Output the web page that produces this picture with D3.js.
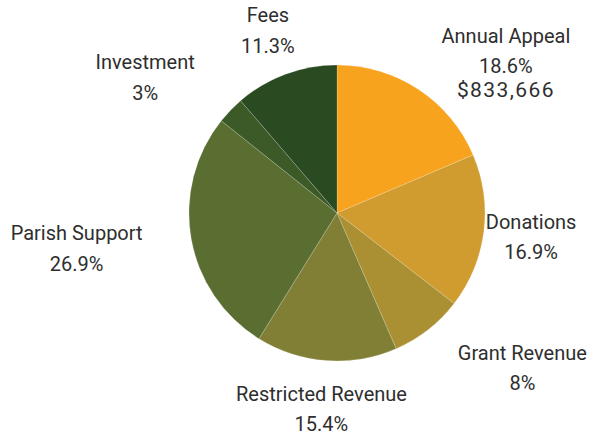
<!DOCTYPE html>
<html>
<head>
<meta charset="utf-8">
<script src="https://cdn.jsdelivr.net/npm/d3@7"></script>
<style>
  html, body { margin: 0; padding: 0; background: #fff; }
  svg { display: block; }
  text { font-family: Roboto, "DejaVu Sans", sans-serif; fill: #2e2e2e; }
</style>
</head>
<body>
<svg id="chart" width="602" height="436"></svg>
<script>
// ---- data ----
const categories = ["Annual Appeal", "Donations", "Grant Revenue", "Restricted Revenue", "Parish Support", "Investment", "Fees"];
const percents   = [18.6, 16.9, 8, 15.4, 26.9, 3, 11.3];
const pctLabels  = ["18.6%", "16.9%", "8%", "15.4%", "26.9%", "3%", "11.3%"];
const extraLabels = ["$833,666", "", "", "", "", "", ""];
const colors     = ["#F8A31E", "#D09B2F", "#AA9033", "#817F35", "#5B6E32", "#3B5A27", "#2A4A22"];

// ---- label layout (angle offset from slice middle in degrees, distance as multiple of radius) ----
const labelAngleOffset = [11.3, -2.6, -13.7, 0.6, 3.8, -7.1, 0.4];
const labelDistance    = [1.621, 1.316, 1.597, 1.273, 1.769, 1.620, 1.370];

const width = 602, height = 436;
const cx = 337, cy = 213, R = 148;
const lineGap = 30.5;

const svg = d3.select("#chart");
const g = svg.append("g").attr("transform", `translate(${cx},${cy})`);

const data = categories.map((c, i) => ({ name: c, value: percents[i], i }));
const pie = d3.pie().sort(null).value(d => d.value).startAngle(0).endAngle(2 * Math.PI);
const arcs = pie(data);
const arc = d3.arc().innerRadius(0).outerRadius(R);

g.selectAll("path.slice")
  .data(arcs)
  .join("path")
  .attr("class", "slice")
  .attr("d", arc)
  .attr("fill", d => colors[d.data.i])
  .attr("stroke", "#ffffff")
  .attr("stroke-opacity", 0.35)
  .attr("stroke-width", 0.5);

const labels = g.selectAll("g.label")
  .data(arcs)
  .join("g")
  .attr("class", "label")
  .attr("transform", d => {
    const i = d.data.i;
    const mid = (d.startAngle + d.endAngle) / 2 + labelAngleOffset[i] * Math.PI / 180;
    const r = R * labelDistance[i];
    return `translate(${r * Math.sin(mid)},${-r * Math.cos(mid)})`;
  });

labels.append("text")
  .attr("text-anchor", "middle")
  .attr("font-size", 20)
  .text(d => d.data.name);

labels.append("text")
  .attr("text-anchor", "middle")
  .attr("font-size", 20)
  .attr("y", lineGap)
  .text(d => pctLabels[d.data.i]);

labels.filter(d => extraLabels[d.data.i] !== "")
  .append("text")
  .attr("text-anchor", "middle")
  .attr("font-size", 21)
  .attr("letter-spacing", 1.4)
  .attr("y", lineGap + 23.5)
  .text(d => extraLabels[d.data.i]);
</script>
</body>
</html>
